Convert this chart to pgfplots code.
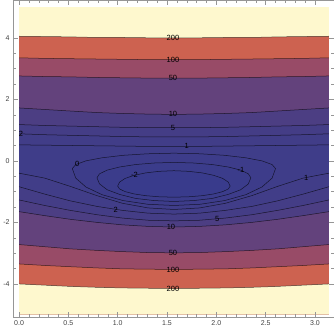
\documentclass[border=0pt]{standalone}
\usepackage{pgfplots}
\pgfplotsset{compat=1.18}
\usepackage{pgfplotstable}
\usepackage{fontspec}
\setmainfont{Liberation Sans}

% band colours, lowest to highest
\definecolor{cm3}{RGB}{57,59,140}
\definecolor{cm2}{RGB}{59,60,139}
\definecolor{cm1}{RGB}{61,60,138}
\definecolor{c0}{RGB}{63,61,137}
\definecolor{c1}{RGB}{65,61,136}
\definecolor{c2}{RGB}{68,61,134}
\definecolor{c5}{RGB}{76,62,131}
\definecolor{c10}{RGB}{99,66,124}
\definecolor{c50}{RGB}{152,75,103}
\definecolor{c100}{RGB}{205,98,80}
\definecolor{c200}{RGB}{254,248,206}
\definecolor{framegray}{RGB}{150,150,150}

% upper contours, last two rows close the strip at y=5
\pgfplotstableread{
x      l1    l2    l5    l10   l50   l100  l200
0      0.52  0.88  1.18  1.72  2.76  3.35  4.05
0.26   0.51  0.85  1.15  1.67  2.74  3.33  4.04
0.52   0.50  0.83  1.13  1.62  2.73  3.32  4.03
0.79   0.49  0.81  1.11  1.57  2.71  3.31  4.01
1.05   0.48  0.79  1.09  1.54  2.70  3.30  4.01
1.31   0.47  0.78  1.08  1.52  2.69  3.29  4.00
1.57   0.47  0.78  1.08  1.51  2.69  3.29  4.00
1.83   0.47  0.78  1.08  1.52  2.69  3.29  4.00
2.09   0.48  0.79  1.09  1.54  2.70  3.30  4.01
2.36   0.49  0.81  1.11  1.57  2.71  3.31  4.01
2.62   0.50  0.83  1.13  1.62  2.73  3.32  4.03
2.88   0.51  0.85  1.15  1.67  2.74  3.33  4.04
3.1416 0.52  0.88  1.18  1.72  2.76  3.35  4.05
3.1416 5     5     5     5     5     5     5
0      5     5     5     5     5     5     5
}\uppercont

% lower contours, last two rows close the strip at y=-5
\pgfplotstableread{
x      l1     l2     l5     l10    l50    l100   l200
0      -0.40  -0.84  -1.27  -1.65  -2.72  -3.35  -4.00
0.26   -0.56  -1.08  -1.45  -1.78  -2.79  -3.40  -4.04
0.52   -0.83  -1.30  -1.61  -1.90  -2.86  -3.44  -4.08
0.79   -1.13  -1.48  -1.75  -2.00  -2.91  -3.48  -4.11
1.05   -1.38  -1.61  -1.86  -2.08  -2.95  -3.51  -4.13
1.31   -1.53  -1.70  -1.93  -2.13  -2.98  -3.52  -4.14
1.57   -1.58  -1.73  -1.95  -2.15  -2.99  -3.53  -4.15
1.83   -1.53  -1.70  -1.93  -2.13  -2.98  -3.52  -4.14
2.09   -1.38  -1.61  -1.86  -2.08  -2.95  -3.51  -4.13
2.36   -1.13  -1.48  -1.75  -2.00  -2.91  -3.48  -4.11
2.62   -0.83  -1.30  -1.61  -1.90  -2.86  -3.44  -4.08
2.88   -0.56  -1.08  -1.45  -1.78  -2.79  -3.40  -4.04
3.1416 -0.40  -0.84  -1.27  -1.65  -2.72  -3.35  -4.00
3.1416 -5     -5     -5     -5     -5     -5     -5
0      -5     -5     -5     -5     -5     -5     -5
}\lowercont

% closed contours round the minimum
\pgfplotstableread{
x     y
0.54  -0.25
0.575 -0.12
0.678 0.00
0.842 0.10
1.055 0.18
1.303 0.23
1.57  0.25
1.837 0.23
2.085 0.18
2.298 0.10
2.462 0.00
2.565 -0.12
2.60  -0.25
2.565 -0.56
2.462 -0.85
2.298 -1.10
2.085 -1.29
1.837 -1.41
1.57  -1.45
1.303 -1.41
1.055 -1.29
0.842 -1.10
0.678 -0.85
0.575 -0.56
0.54  -0.25
}\ovalzero

\pgfplotstableread{
x     y
0.79  -0.55
0.816 -0.42
0.894 -0.30
1.019 -0.20
1.18  -0.12
1.368 -0.07
1.57  -0.05
1.772 -0.07
1.96  -0.12
2.121 -0.20
2.246 -0.30
2.324 -0.42
2.35  -0.55
2.324 -0.75
2.246 -0.94
2.121 -1.09
1.96  -1.22
1.772 -1.29
1.57  -1.32
1.368 -1.29
1.18  -1.22
1.019 -1.09
0.894 -0.94
0.816 -0.75
0.79  -0.55
}\ovalone

\pgfplotstableread{
x     y
1.0   -0.82
1.019 -0.69
1.076 -0.57
1.167 -0.47
1.285 -0.39
1.422 -0.34
1.57  -0.32
1.718 -0.34
1.855 -0.39
1.973 -0.47
2.064 -0.57
2.121 -0.69
2.14  -0.82
2.121 -0.913
2.064 -1.0
1.973 -1.075
1.855 -1.132
1.718 -1.168
1.57  -1.18
1.422 -1.168
1.285 -1.132
1.167 -1.075
1.076 -1.0
1.019 -0.913
1.0   -0.82
}\ovaltwo

\pgfplotstableread{
x     y      t
1.56  4.00   200
1.56  3.29   100
1.56  2.69   50
1.56  1.51   10
1.56  1.08   5
1.70  0.47   1
0.02  0.88   2
0.59  -0.09  0
1.17  -0.46  -2
2.25  -0.30  -1
2.91  -0.54  1
0.98  -1.58  2
2.01  -1.88  5
1.54  -2.15  10
1.56  -2.99  50
1.56  -3.53  100
1.56  -4.15  200
}\contlabels

\begin{document}
\begin{tikzpicture}
\begin{axis}[
    scale only axis,
    width=319bp, height=315bp,
    xmin=-0.06, xmax=3.19,
    ymin=-5.07, ymax=5.22,
    xtick={0,0.5,...,3},
    ytick={-4,-2,...,4},
    minor x tick num=4,
    minor y tick num=3,
    axis on top,
    axis line style={framegray, line width=0.5bp},
    tick style={framegray, line width=0.4bp},
    major tick length=4.5bp,
    minor tick length=2.5bp,
    ticklabel style={font=\fontsize{7}{8}\selectfont, text=black!75},
    x tick label style={/pgf/number format/.cd, fixed, fixed zerofill, precision=1},
    /pgf/number format/assume math mode=true,
    band/.style={draw=none, mark=none},
    cline/.style={draw=black, draw opacity=0.65, line width=0.5bp, mark=none},
]
% lowest layer: band between the two 1 contours
\addplot[band, fill=c0] coordinates {(0,-5) (3.1416,-5) (3.1416,5) (0,5)};
\addplot[band, fill=cm1] table {\ovalzero};
\addplot[band, fill=cm2] table {\ovalone};
\addplot[band, fill=cm3] table {\ovaltwo};

% strips above each level, top and bottom
\addplot[band, fill=c1]   table[y=l1]   {\uppercont};
\addplot[band, fill=c1]   table[y=l1]   {\lowercont};
\addplot[band, fill=c2]   table[y=l2]   {\uppercont};
\addplot[band, fill=c2]   table[y=l2]   {\lowercont};
\addplot[band, fill=c5]   table[y=l5]   {\uppercont};
\addplot[band, fill=c5]   table[y=l5]   {\lowercont};
\addplot[band, fill=c10]  table[y=l10]  {\uppercont};
\addplot[band, fill=c10]  table[y=l10]  {\lowercont};
\addplot[band, fill=c50]  table[y=l50]  {\uppercont};
\addplot[band, fill=c50]  table[y=l50]  {\lowercont};
\addplot[band, fill=c100] table[y=l100] {\uppercont};
\addplot[band, fill=c100] table[y=l100] {\lowercont};
\addplot[band, fill=c200] table[y=l200] {\uppercont};
\addplot[band, fill=c200] table[y=l200] {\lowercont};

% contour lines
\foreach \c in {l1,l2,l5,l10,l50,l100,l200} {
    \addplot[cline] table[y=\c, skip coords between index={13}{15}] {\uppercont};
    \addplot[cline] table[y=\c, skip coords between index={13}{15}] {\lowercont};
}
\addplot[cline] table {\ovalzero};
\addplot[cline] table {\ovalone};
\addplot[cline] table {\ovaltwo};

% level labels
\addplot[draw=none, mark=none, nodes near coords, point meta=explicit symbolic,
    nodes near coords align=center,
    every node near coord/.append style={font=\fontsize{7.5}{8}\selectfont, text=black, inner sep=0.5pt}]
    table[meta=t] {\contlabels};
\end{axis}
\end{tikzpicture}
\end{document}
